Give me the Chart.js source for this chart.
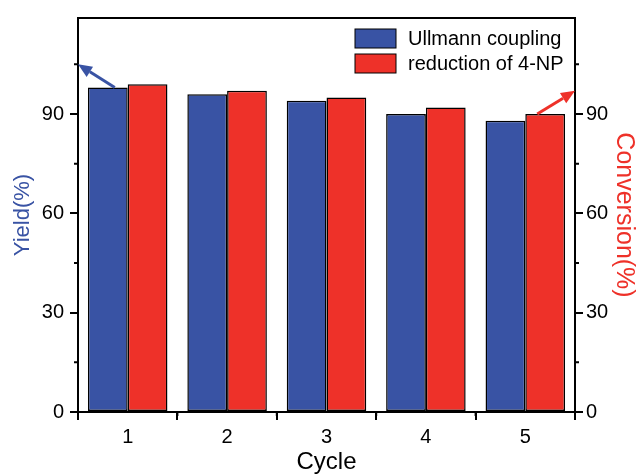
<!DOCTYPE html>
<html>
<head>
<meta charset="utf-8">
<script src="https://cdn.jsdelivr.net/npm/chart.js@4.4.1/dist/chart.umd.min.js"></script>
<style>
html, body { margin: 0; padding: 0; background: #fff; }
#wrap { width: 636px; height: 474px; }
</style>
</head>
<body>
<div id="wrap"><canvas id="cycleChart"></canvas></div>
<script>
const cycles = ['1', '2', '3', '4', '5'];
const ullmannYield = [98, 96, 94, 90, 88];
const reductionConversion = [99, 97, 95, 92, 90];
const yTicks = [0, 30, 60, 90];
const yMinorTicks = [15, 45, 75, 105];
const yMax = 119;
// arrows: [category index, offset in categories, value at bar top, value at axis]
const yieldArrow = [0, -0.13, 98, 105];
const conversionArrow = [4, 0.12, 90, 97];

const blue = '#3953a4';
const red = '#ee3129';
const fontFamily = "'Liberation Sans', Arial, sans-serif";

// small ticks, top border, legend and arrows
const extrasPlugin = {
    id: 'extras',
    afterDraw(chart) {
        const ctx = chart.ctx;
        const area = chart.chartArea;
        const x = chart.scales.x;
        const yL = chart.scales.y;
        const yR = chart.scales.y2;
        ctx.save();
        ctx.strokeStyle = '#000';
        ctx.lineWidth = 2;

        // top frame line
        ctx.beginPath();
        ctx.moveTo(area.left - 1, area.top);
        ctx.lineTo(area.right + 1, area.top);
        ctx.stroke();

        // minor ticks
        ctx.beginPath();
        yMinorTicks.forEach(v => {
            const py = yL.getPixelForValue(v);
            ctx.moveTo(area.left, py);
            ctx.lineTo(area.left - 4, py);
            const pr = yR.getPixelForValue(v);
            ctx.moveTo(area.right, pr);
            ctx.lineTo(area.right + 4, pr);
        });
        for (let i = 0; i <= cycles.length; i++) {
            const px = x.getPixelForValue(i - 0.5);
            ctx.moveTo(px, area.bottom);
            ctx.lineTo(px, area.bottom + 4);
        }
        ctx.stroke();

        // legend
        const lx = area.right - 220;
        const ly = area.top + 11;
        chart.data.datasets.forEach((ds, i) => {
            const top = ly + i * 25;
            ctx.fillStyle = ds.backgroundColor;
            ctx.fillRect(lx, top, 41, 19);
            ctx.lineWidth = 1;
            ctx.strokeStyle = '#000';
            ctx.strokeRect(lx, top, 41, 19);
            ctx.fillStyle = '#000';
            ctx.font = '20px ' + fontFamily;
            ctx.textBaseline = 'middle';
            ctx.fillText(ds.label, lx + 53, top + 10);
        });

        // arrows
        const drawArrow = (x1, y1, x2, y2, color) => {
            const ang = Math.atan2(y2 - y1, x2 - x1);
            const headLen = 14, headW = 6;
            const bx = x2 - headLen * Math.cos(ang);
            const by = y2 - headLen * Math.sin(ang);
            ctx.strokeStyle = color;
            ctx.fillStyle = color;
            ctx.lineWidth = 3;
            ctx.beginPath();
            ctx.moveTo(x1, y1);
            ctx.lineTo(bx, by);
            ctx.stroke();
            ctx.beginPath();
            ctx.moveTo(x2, y2);
            ctx.lineTo(bx + headW * Math.sin(ang), by - headW * Math.cos(ang));
            ctx.lineTo(bx - headW * Math.sin(ang), by + headW * Math.cos(ang));
            ctx.closePath();
            ctx.fill();
        };
        drawArrow(x.getPixelForValue(yieldArrow[0] + yieldArrow[1]), yL.getPixelForValue(yieldArrow[2]),
            area.left, yL.getPixelForValue(yieldArrow[3]), blue);
        drawArrow(x.getPixelForValue(conversionArrow[0] + conversionArrow[1]), yR.getPixelForValue(conversionArrow[2]),
            area.right, yR.getPixelForValue(conversionArrow[3]), red);
        ctx.restore();
    }
};

const keepTicks = scale => {
    scale.ticks = yTicks.map(v => ({ value: v }));
};

new Chart(document.getElementById('cycleChart'), {
    type: 'bar',
    data: {
        labels: cycles,
        datasets: [{
            label: 'Ullmann coupling',
            data: ullmannYield,
            backgroundColor: blue,
            borderColor: '#000',
            borderWidth: 1.5,
            borderSkipped: false,
            yAxisID: 'y'
        }, {
            label: 'reduction of 4-NP',
            data: reductionConversion,
            backgroundColor: red,
            borderColor: '#000',
            borderWidth: 1.5,
            borderSkipped: false,
            yAxisID: 'y2'
        }]
    },
    options: {
        responsive: true,
        maintainAspectRatio: false,
        animation: false,
        devicePixelRatio: 1,
        categoryPercentage: 0.8,
        barPercentage: 1.0,
        layout: { padding: { top: 13, left: 0, right: 0, bottom: 0 } },
        plugins: {
            legend: { display: false },
            tooltip: { enabled: false }
        },
        scales: {
            x: {
                grid: { display: true, drawOnChartArea: false, tickLength: 8, color: '#000', lineWidth: 2 },
                border: { color: '#000', width: 2 },
                ticks: { color: '#000', font: { family: fontFamily, size: 20 }, padding: 5 },
                title: { display: true, text: 'Cycle', color: '#000', font: { family: fontFamily, size: 24, lineHeight: 1 }, padding: 0 },
                afterFit: s => { s.height = 62; }
            },
            y: {
                position: 'left',
                min: 0,
                max: yMax,
                afterBuildTicks: keepTicks,
                grid: { display: true, drawOnChartArea: false, tickLength: 8, color: '#000', lineWidth: 2 },
                border: { color: '#000', width: 2 },
                ticks: { color: '#000', font: { family: fontFamily, size: 20 }, padding: 6 },
                title: { display: true, text: 'Yield(%)', color: blue, font: { family: fontFamily, size: 22, lineHeight: 1 }, padding: 12 },
                afterFit: s => { s.width = 78; }
            },
            y2: {
                position: 'right',
                min: 0,
                max: yMax,
                afterBuildTicks: keepTicks,
                grid: { display: true, drawOnChartArea: false, tickLength: 8, color: '#000', lineWidth: 2 },
                border: { color: '#000', width: 2 },
                ticks: { color: '#000', font: { family: fontFamily, size: 20 }, padding: 3 },
                title: { display: true, text: 'Conversion(%)', color: red, font: { family: fontFamily, size: 25, lineHeight: 1 }, padding: 0 },
                afterFit: s => { s.width = 61; }
            }
        }
    },
    plugins: [extrasPlugin]
});
</script>
</body>
</html>
